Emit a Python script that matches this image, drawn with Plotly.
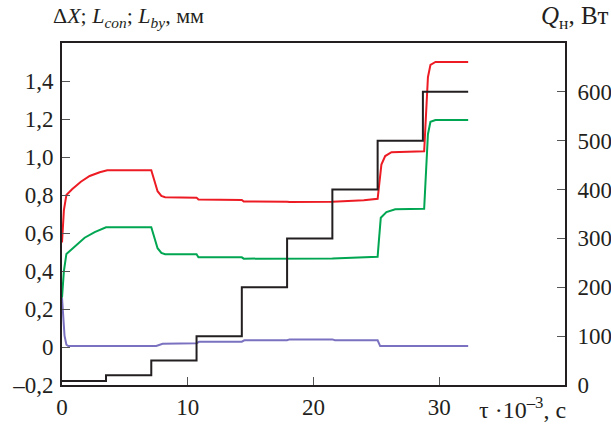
import plotly.graph_objects as go

# ---- data ----
# heat load Q_н (W), step function, right axis
t_q = [0, 3.5, 7.1, 10.7, 14.3, 17.9, 21.5, 25.1, 28.7, 32.3]
q_vals = [8, 20, 50, 100, 200, 300, 400, 500, 600, 600]

# red curve (left axis, mm)
t_red = [0, 0.15, 0.35, 0.8, 1.5, 2.2, 3.0, 3.6, 7.1, 7.3, 7.6, 7.9, 8.2,
         10.7, 10.85, 14.3, 14.45, 17.9, 18.1, 21.5, 24.0, 25.1, 25.25, 25.4,
         25.7, 26.2, 28.8, 28.95, 29.1, 29.3, 29.7, 32.3]
y_red = [0.55, 0.72, 0.80, 0.83, 0.87, 0.90, 0.92, 0.93, 0.93, 0.88, 0.82,
         0.795, 0.788, 0.786, 0.776, 0.774, 0.766, 0.765, 0.763, 0.765, 0.772,
         0.78, 0.87, 0.96, 1.005, 1.025, 1.03, 1.2, 1.42, 1.485, 1.5, 1.5]

# green curve (left axis, mm)
t_green = [0, 0.15, 0.35, 1.0, 1.8, 2.6, 3.5, 7.1, 7.3, 7.6, 7.9, 8.2,
           10.7, 10.85, 14.3, 14.45, 21.5, 24.0, 25.1, 25.2, 25.35, 25.8,
           26.5, 28.8, 28.95, 29.1, 29.3, 29.7, 32.3]
y_green = [0.26, 0.40, 0.49, 0.53, 0.575, 0.605, 0.63, 0.63, 0.58, 0.52,
           0.495, 0.488, 0.488, 0.472, 0.472, 0.465, 0.466, 0.47, 0.475,
           0.56, 0.68, 0.71, 0.725, 0.727, 0.9, 1.12, 1.185, 1.195, 1.195]

# purple curve (left axis, mm)
t_purple = [0, 0.1, 0.2, 0.35, 0.5, 7.5, 8.0, 10.7, 10.9, 14.3, 14.5, 17.9,
            18.1, 21.5, 21.7, 25.1, 25.3, 32.3]
y_purple = [0.26, 0.15, 0.06, 0.012, 0.005, 0.005, 0.017, 0.02, 0.027, 0.028,
            0.035, 0.036, 0.04, 0.04, 0.036, 0.035, 0.005, 0.005]

left_ticks = [-0.2, 0, 0.2, 0.4, 0.6, 0.8, 1.0, 1.2, 1.4]
left_labels = ["–0,2", "0", "0,2", "0,4", "0,6", "0,8", "1,0", "1,2", "1,4"]
right_ticks = [0, 100, 200, 300, 400, 500, 600]
x_ticks = [0, 10, 20, 30]

INK = "#231f20"
FONT = "Liberation Serif, Times New Roman, serif"

fig = go.Figure()
fig.add_trace(go.Scatter(x=t_purple, y=y_purple, mode="lines",
                         line=dict(color="#7a72c0", width=2), showlegend=False))
fig.add_trace(go.Scatter(x=t_green, y=y_green, mode="lines",
                         line=dict(color="#00a651", width=2), showlegend=False))
fig.add_trace(go.Scatter(x=t_red, y=y_red, mode="lines",
                         line=dict(color="#ed1c24", width=2), showlegend=False))
fig.add_trace(go.Scatter(x=t_q, y=q_vals, mode="lines", yaxis="y2",
                         line=dict(color=INK, width=2, shape="hv"),
                         showlegend=False))

axis_common = dict(showgrid=False, zeroline=False, showline=True,
                   linecolor=INK, linewidth=2, ticks="inside", ticklen=8,
                   tickwidth=1, tickcolor="#555555", automargin=False,
                   tickfont=dict(family=FONT, size=23, color=INK))

fig.update_layout(
    template="none",
    width=611, height=427,
    margin=dict(l=62, r=46, t=43, b=42),
    paper_bgcolor="white", plot_bgcolor="white",
    xaxis=dict(range=[0, 40], tickvals=x_ticks, mirror=True,
               ticklabelstandoff=0, **axis_common),
    yaxis=dict(range=[-0.2, 1.6], tickvals=left_ticks, ticktext=left_labels,
               ticklabelstandoff=2, **axis_common),
    yaxis2=dict(range=[0, 700], tickvals=right_ticks, overlaying="y",
                side="right", ticklabelstandoff=6, **axis_common),
    annotations=[
        dict(text="Δ<i>X</i>; <i>L</i><sub><i>con</i></sub>; <i>L</i><sub><i>by</i></sub>, мм",
             xref="paper", yref="paper", x=0.1322, y=1.076,
             xanchor="center", yanchor="middle", showarrow=False,
             font=dict(family=FONT, size=22, color=INK)),
        dict(text="<i>Q</i><sub>н</sub>, Вт",
             xref="paper", yref="paper", x=1.019, y=1.076,
             xanchor="center", yanchor="middle", showarrow=False,
             font=dict(family=FONT, size=25, color=INK)),
        dict(text="τ ·10<sup>–3</sup>, с",
             xref="paper", yref="paper", x=0.9146, y=-0.067,
             xanchor="center", yanchor="middle", showarrow=False,
             font=dict(family=FONT, size=24, color=INK)),
    ],
)

fig.write_html("out.html")
